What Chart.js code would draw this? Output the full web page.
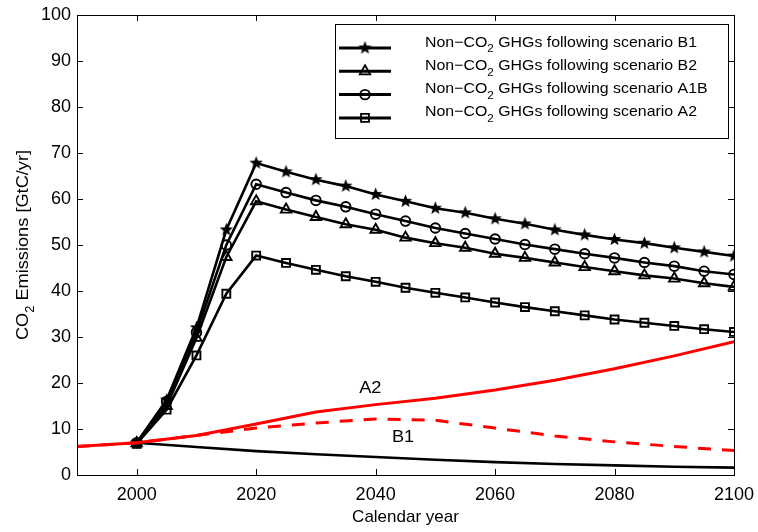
<!DOCTYPE html>
<html><head><meta charset="utf-8">
<script src="https://cdn.jsdelivr.net/npm/chart.js@4/dist/chart.umd.min.js"></script>
<style>html,body{margin:0;padding:0;background:#fff;}</style>
</head><body>
<canvas id="c" width="758" height="532" style="width:758px;height:532px;display:block"></canvas>
<script>
// ---------------- data ----------------
const scenarioYears = [2000,2005,2010,2015,2020,2025,2030,2035,2040,2045,2050,2055,2060,2065,2070,2075,2080,2085,2090,2095,2100];
const ghgB1  = [7.0,16.3,32.0,53.3,67.8,65.9,64.2,62.8,61.0,59.5,58.0,57.0,55.7,54.6,53.3,52.2,51.2,50.4,49.4,48.5,47.6];
const ghgB2  = [6.9,15.0,29.8,47.4,59.5,57.7,56.1,54.5,53.3,51.6,50.4,49.4,48.1,47.2,46.2,45.2,44.3,43.4,42.7,41.7,40.9];
const ghgA1B = [7.0,16.0,31.0,50.0,63.2,61.4,59.7,58.3,56.7,55.2,53.7,52.5,51.3,50.1,49.1,48.1,47.2,46.2,45.4,44.3,43.6];
const ghgA2  = [6.8,14.2,26.0,39.4,47.7,46.1,44.6,43.2,42.0,40.7,39.6,38.6,37.5,36.5,35.6,34.7,33.8,33.1,32.4,31.7,31.1];

const sresYears = [1990,2000,2010,2020,2030,2040,2050,2060,2070,2080,2090,2100];
const sresA2    = [6.2,7.0,8.6,11.1,13.7,15.3,16.7,18.5,20.6,23.1,25.9,29.0];
const sresB1    = [6.2,7.0,8.6,10.2,11.3,12.2,11.9,10.2,8.5,7.2,6.2,5.3];

const baseYears = [2000,2010,2020,2030,2040,2050,2060,2070,2080,2090,2100];
const baseline  = [7.0,6.1,5.2,4.5,3.9,3.3,2.8,2.4,2.1,1.8,1.6];

const xTickValues = [2000,2020,2040,2060,2080,2100];
const xTickLabels = ['2000','2020','2040','2060','2080','2100'];
const yTickValues = [0,10,20,30,40,50,60,70,80,90,100];
const yTickLabels = ['0','10','20','30','40','50','60','70','80','90','100'];
const legendNames = ['B1','B2','A1B','A2'];
const curveLabels = [{text:'A2', x:2039.1, y:18.8},{text:'B1', x:2044.6, y:8.2}];

// ---------------- helpers ----------------
function zip(xs, ys){ return xs.map((x,i)=>({x:x, y:ys[i]})); }
function makeStar(size){
  const c = document.createElement('canvas'); c.width = size; c.height = size;
  const g = c.getContext('2d'); const cx=size/2, cy=size/2, R=size/2-0.5, r=R*0.42;
  g.beginPath();
  for(let i=0;i<10;i++){
    const a = -Math.PI/2 + i*Math.PI/5; const rr = i%2===0?R:r;
    const px = cx+rr*Math.cos(a), py = cy+rr*Math.sin(a);
    if(i===0) g.moveTo(px,py); else g.lineTo(px,py);
  }
  g.closePath(); g.fillStyle='#000'; g.fill();
  return c;
}
const starImg = makeStar(15);
const FONT = '"Liberation Sans", Arial, Helvetica, sans-serif';

function ghgDataset(name, values, style, radius){
  return {label:'Non-CO2 GHGs following scenario '+name, data: zip(scenarioYears, values), showLine:true,
    borderColor:'#000', borderWidth:2.6, pointStyle:style, pointRadius:radius,
    pointBorderColor:'#000', pointBackgroundColor:'rgba(0,0,0,0)', pointBorderWidth:1.9, order:2};
}
const markerStyles = {B1:starImg, B2:'triangle', A1B:'circle', A2:'rect'};
const markerRadius = {B1:7, B2:6, A1B:4.8, A2:5.6};

const datasets = [
  {label:'A2', data: zip(sresYears, sresA2), showLine:true, borderColor:'#ff0000', borderWidth:3, pointRadius:0, order:0},
  {label:'B1', data: zip(sresYears, sresB1), showLine:true, borderColor:'#ff0000', borderWidth:3, borderDash:[13,11], pointRadius:0, order:0},
  {label:'base', data: zip(baseYears, baseline), showLine:true, borderColor:'#000', borderWidth:2.6, pointRadius:0, order:1},
  ghgDataset('B1', ghgB1, markerStyles.B1, markerRadius.B1),
  ghgDataset('B2', ghgB2, markerStyles.B2, markerRadius.B2),
  ghgDataset('A1B', ghgA1B, markerStyles.A1B, markerRadius.A1B),
  ghgDataset('A2', ghgA2, markerStyles.A2, markerRadius.A2)
];

function drawPointMarker(ctx, style, r, x, y){
  ctx.save(); ctx.strokeStyle='#000'; ctx.lineWidth=1.8; ctx.fillStyle='rgba(0,0,0,0)';
  if (Chart.helpers && Chart.helpers.drawPoint){
    Chart.helpers.drawPoint(ctx, {pointStyle:style, radius:r, rotation:0, borderWidth:1.8}, x, y);
  } else if (typeof style !== 'string'){
    ctx.drawImage(style, x-style.width/2, y-style.height/2);
  }
  ctx.restore();
}

function drawSubText(ctx, x, y, parts, size, subSize, scaleX){
  ctx.save(); ctx.translate(x, y); ctx.scale(scaleX, 1);
  let cx = 0;
  parts.forEach(p=>{
    ctx.font = (p[1]?subSize:size)+'px '+FONT;
    ctx.fillText(p[0], cx, p[1]? size*0.38 : 0);
    cx += ctx.measureText(p[0]).width;
  });
  ctx.restore();
  return cx*scaleX;
}
function measureParts(ctx, parts, size, subSize){
  let w=0; parts.forEach(p=>{ctx.font=(p[1]?subSize:size)+'px '+FONT; w+=ctx.measureText(p[0]).width;}); return w;
}

const decorPlugin = {
  id:'decor',
  afterDatasetsDraw(chart){
    const ctx = chart.ctx, a = chart.chartArea, xs = chart.scales.x, ys = chart.scales.y;
    ctx.save();
    ctx.strokeStyle='#000'; ctx.lineWidth=1;
    ctx.strokeRect(Math.round(a.left)+0.5, Math.round(a.top)+0.5, Math.round(a.right-a.left), Math.round(a.bottom-a.top));
    ctx.beginPath();
    xTickValues.forEach(v=>{ const px=Math.round(xs.getPixelForValue(v))+0.5;
      ctx.moveTo(px,a.bottom); ctx.lineTo(px,a.bottom-6); ctx.moveTo(px,a.top); ctx.lineTo(px,a.top+6); });
    yTickValues.forEach(v=>{ const py=Math.round(ys.getPixelForValue(v))+0.5;
      ctx.moveTo(a.left,py); ctx.lineTo(a.left+6,py); ctx.moveTo(a.right,py); ctx.lineTo(a.right-6,py); });
    ctx.stroke();
    ctx.fillStyle='#000'; ctx.font='17px '+FONT; ctx.textAlign='center'; ctx.textBaseline='middle';
    curveLabels.forEach(l=>{
      ctx.save(); ctx.translate(xs.getPixelForValue(l.x), ys.getPixelForValue(l.y)); ctx.scale(1.07,1);
      ctx.fillText(l.text, 0, 0); ctx.restore();
    });
    ctx.textAlign='left'; ctx.textBaseline='alphabetic';
    const tParts=[['CO',false],['2',true],[' Emissions [GtC/yr]',false]];
    const tw = measureParts(ctx,tParts,17,12)*1.07;
    ctx.save(); ctx.translate(28, (a.top+a.bottom)/2); ctx.rotate(-Math.PI/2);
    drawSubText(ctx, -tw/2, 0, tParts, 17, 12, 1.07);
    ctx.restore();
    const L={x:335,y:24,w:393,h:114};
    ctx.fillStyle='#fff'; ctx.fillRect(L.x,L.y,L.w,L.h);
    ctx.strokeStyle='#000'; ctx.lineWidth=1; ctx.strokeRect(L.x+0.5,L.y+0.5,L.w,L.h);
    legendNames.forEach((n,i)=>{
      const ry = 48 + i*23.3;
      ctx.strokeStyle='#000'; ctx.lineWidth=3; ctx.beginPath(); ctx.moveTo(339,ry); ctx.lineTo(391,ry); ctx.stroke();
      drawPointMarker(ctx, markerStyles[n], markerRadius[n], 365, ry);
      ctx.fillStyle='#000';
      drawSubText(ctx, 425, ry-1.5, [['Non\u2212CO',false],['2',true],[' GHGs following scenario '+n,false]], 15, 11, 1.06);
    });
    ctx.restore();
  }
};

new Chart(document.getElementById('c'), {
  type:'scatter',
  data:{datasets:datasets},
  options:{
    responsive:false, animation:false, devicePixelRatio:1,
    layout:{padding:{left:0,right:24,top:15,bottom:0}},
    plugins:{legend:{display:false}, tooltip:{enabled:false}},
    scales:{
      x:{type:'linear', min:1990, max:2100,
        afterBuildTicks(s){ s.ticks = xTickValues.map(v=>({value:v})); },
        afterFit(s){ s.height = 57; s.paddingLeft = 0; s.paddingRight = 0; },
        grid:{display:false, drawTicks:false}, border:{display:false},
        ticks:{color:'#000', font:{family:FONT, size:18}, padding:9, maxRotation:0, autoSkip:false,
          callback:(v)=>{ const i=xTickValues.indexOf(v); return i>=0?xTickLabels[i]:''; }},
        title:{display:true, text:'Calendar year', color:'#000', font:{family:FONT, size:17}, padding:{top:0,bottom:4}}
      },
      y:{type:'linear', min:0, max:100,
        afterBuildTicks(s){ s.ticks = yTickValues.map(v=>({value:v})); },
        afterFit(s){ s.width = 77; s.paddingTop = 0; s.paddingBottom = 0; },
        grid:{display:false, drawTicks:false}, border:{display:false},
        ticks:{color:'#000', font:{family:FONT, size:18}, padding:6, autoSkip:false,
          callback:(v)=>{ const i=yTickValues.indexOf(v); return i>=0?yTickLabels[i]:''; }}
      }
    }
  },
  plugins:[decorPlugin]
});
</script>
</body></html>
